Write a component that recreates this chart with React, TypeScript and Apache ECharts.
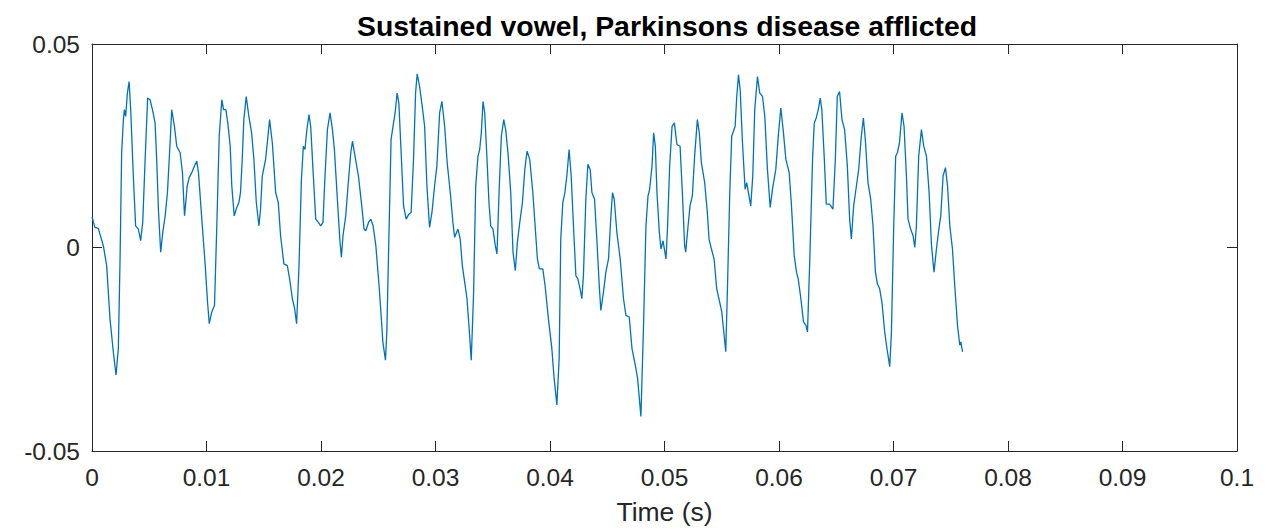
import React, { useEffect, useRef } from "react";
import * as echarts from "echarts";

const titleText = "Sustained vowel, Parkinsons disease afflicted";
const xAxisName = "Time (s)";

const timeS = [
  0, 0.00026, 0.00055, 0.00099, 0.00128, 0.00157, 0.00186, 0.0021, 0.0023, 0.00245,
  0.00259, 0.00274, 0.00283, 0.00294, 0.00309, 0.00324, 0.00338, 0.00361, 0.00381, 0.00405,
  0.00425, 0.00443, 0.00464, 0.00486, 0.00507, 0.00528, 0.00551, 0.00565, 0.0058, 0.006,
  0.00618, 0.00639, 0.00659, 0.00682, 0.00696, 0.0072, 0.0074, 0.0077, 0.0079, 0.00808,
  0.00819, 0.00831, 0.00849, 0.00871, 0.00895, 0.00915, 0.0093, 0.00959, 0.00989, 0.01009,
  0.01024, 0.01046, 0.0107, 0.0109, 0.01111, 0.01134, 0.01149, 0.01169, 0.01186, 0.01207,
  0.01221, 0.01242, 0.01265, 0.01283, 0.01297, 0.01312, 0.01326, 0.01347, 0.0137, 0.01394,
  0.01414, 0.01435, 0.01458, 0.01472, 0.01487, 0.01516, 0.01531, 0.01551, 0.01575, 0.01604,
  0.01627, 0.01647, 0.01676, 0.01706, 0.01726, 0.0175, 0.0177, 0.01787, 0.01808, 0.01829,
  0.01846, 0.0186, 0.01875, 0.01895, 0.0191, 0.0193, 0.01954, 0.01977, 0.01997, 0.02017,
  0.02035, 0.02056, 0.02079, 0.021, 0.02117, 0.02143, 0.02164, 0.02178, 0.02192, 0.02216,
  0.02236, 0.0226, 0.02275, 0.02297, 0.02327, 0.02356, 0.02376, 0.02391, 0.02415, 0.02435,
  0.02455, 0.02479, 0.02507, 0.02531, 0.0254, 0.02563, 0.02575, 0.02592, 0.02612, 0.02627,
  0.02647, 0.02665, 0.0268, 0.027, 0.02721, 0.02744, 0.02767, 0.02787, 0.02808, 0.02826,
  0.0284, 0.02861, 0.02884, 0.02905, 0.02925, 0.02948, 0.02969, 0.02992, 0.03012, 0.03036,
  0.03056, 0.0308, 0.03102, 0.03129, 0.03152, 0.03167, 0.03196, 0.03216, 0.03234, 0.03255,
  0.03275, 0.03292, 0.03312, 0.03333, 0.03351, 0.03371, 0.03386, 0.034, 0.03415, 0.0343,
  0.0345, 0.03467, 0.03482, 0.03502, 0.03522, 0.03537, 0.03555, 0.03575, 0.03596, 0.03613,
  0.03633, 0.03657, 0.03677, 0.03697, 0.03715, 0.03736, 0.03759, 0.0378, 0.038, 0.03823,
  0.0385, 0.0387, 0.0389, 0.03907, 0.03937, 0.03957, 0.03986, 0.04016, 0.04036, 0.0406,
  0.0408, 0.04094, 0.04112, 0.0413, 0.04147, 0.04167, 0.04185, 0.04205, 0.04226, 0.04243,
  0.04263, 0.04278, 0.04292, 0.04313, 0.04331, 0.04351, 0.04366, 0.04389, 0.04409, 0.0443,
  0.04444, 0.04467, 0.04488, 0.04511, 0.04532, 0.04546, 0.04561, 0.04584, 0.04613, 0.04642,
  0.04663, 0.04692, 0.04716, 0.04745, 0.04765, 0.04794, 0.04817, 0.04838, 0.04856, 0.0487,
  0.04891, 0.04905, 0.0492, 0.04934, 0.04955, 0.04969, 0.04987, 0.05013, 0.05027, 0.05045,
  0.05066, 0.05086, 0.05109, 0.05136, 0.05156, 0.05176, 0.05185, 0.05206, 0.05223, 0.05243,
  0.05263, 0.05287, 0.05304, 0.05322, 0.05351, 0.05374, 0.05389, 0.0541, 0.05433, 0.05456,
  0.05482, 0.055, 0.05521, 0.05535, 0.05549, 0.0557, 0.05587, 0.05602, 0.05617, 0.05631,
  0.05646, 0.05661, 0.05681, 0.05704, 0.05718, 0.05733, 0.05753, 0.05771, 0.05788, 0.05812,
  0.05832, 0.05856, 0.05876, 0.05899, 0.05923, 0.05943, 0.05972, 0.05996, 0.06016, 0.06039,
  0.0606, 0.06089, 0.06109, 0.06133, 0.06153, 0.06168, 0.06191, 0.06214, 0.06235, 0.06249,
  0.06269, 0.06293, 0.06308, 0.06325, 0.06343, 0.0636, 0.06374, 0.06396, 0.06413, 0.06442,
  0.06471, 0.06492, 0.06509, 0.06529, 0.0655, 0.06573, 0.06597, 0.06617, 0.06632, 0.06652,
  0.06676, 0.06696, 0.06719, 0.06737, 0.06754, 0.06777, 0.06801, 0.06821, 0.06842, 0.06859,
  0.06879, 0.06899, 0.06923, 0.06943, 0.06967, 0.06982, 0.07002, 0.07019, 0.07034, 0.07052,
  0.07074, 0.07092, 0.07113, 0.07127, 0.0715, 0.07171, 0.07186, 0.072, 0.0722, 0.07244,
  0.07264, 0.07288, 0.07311, 0.07332, 0.07354, 0.07375, 0.07396, 0.07413, 0.07433, 0.07454,
  0.07472, 0.07492, 0.07515, 0.07535, 0.07559, 0.07579, 0.07588, 0.07603,
];

const amplitude = [
  0.0075, 0.00494, 0.00469, 0.00044, -0.00445, -0.01748, -0.02562, -0.03134, -0.02482, -0.00281,
  0.02328, 0.03142, 0.03386, 0.03222, 0.03795, 0.04078, 0.03386, 0.01756, 0.00533, 0.00452,
  0.00166, 0.00616, 0.02164, 0.03672, 0.03631, 0.03386, 0.03061, 0.02164, 0.00941, -0.00117,
  0.00372, 0.00778, 0.0135, 0.02572, 0.03386, 0.02978, 0.02489, 0.02328, 0.01839, 0.00778,
  0.01105, 0.01511, 0.01716, 0.01839, 0.02, 0.02122, 0.01839, 0.00697, -0.00445, -0.0134,
  -0.0187, -0.01584, -0.01423, 0.00533, 0.02733, 0.03631, 0.03386, 0.03386, 0.03061, 0.02489,
  0.01511, 0.00778, 0.0099, 0.01105, 0.0135, 0.02164, 0.03142, 0.03711, 0.03222, 0.02817,
  0.02164, 0.01105, 0.00533, 0.00941, 0.01756, 0.02164, 0.02572, 0.03142, 0.02572, 0.0135,
  0.01105, 0.00289, -0.00403, -0.00445, -0.0077, -0.01259, -0.01504, -0.0187, -0.00445, 0.01675,
  0.02489, 0.02408, 0.02856, 0.03264, 0.02978, 0.01919, 0.00697, 0.00616, 0.00533, 0.00616,
  0.01756, 0.02897, 0.03306, 0.02897, 0.02408, 0.01186, 0.00208, -0.0024, 0.00289, 0.00778,
  0.01511, 0.02328, 0.02611, 0.02244, 0.01756, 0.01022, 0.00452, 0.00411, 0.00616, 0.00697,
  0.00533, 0.00044, -0.00934, -0.01912, -0.02318, -0.02768, -0.02073, 0.00127, 0.02653, 0.02939,
  0.03306, 0.03795, 0.0355, 0.02328, 0.01022, 0.00697, 0.00819, 0.00861, 0.02164, 0.03795,
  0.04267, 0.03956, 0.03467, 0.02978, 0.01511, 0.00494, 0.00861, 0.01511, 0.02, 0.03306,
  0.03589, 0.02978, 0.02083, 0.0135, 0.00616, 0.00249, 0.00452, 0.00208, -0.00445, -0.00851,
  -0.01259, -0.01912, -0.02768, -0.01095, 0.01511, 0.02244, 0.02408, 0.02817, 0.03589, 0.03306,
  0.02164, 0.01105, 0.00533, 0.00452, 0.00044, -0.00159, 0.0135, 0.02733, 0.03142, 0.02897,
  0.02328, 0.0135, -0.00117, -0.00567, 0.00127, 0.00616, 0.01105, 0.01919, 0.02367, 0.02164,
  0.0135, 0.00533, -0.00281, -0.00526, -0.00526, -0.00934, -0.01748, -0.0248, -0.03215, -0.03868,
  -0.02726, 0.00208, 0.01105, 0.0135, 0.01756, 0.02408, 0.01756, 0.00533, -0.0069, -0.0077,
  -0.01015, -0.01259, -0.0069, 0.01186, 0.02042, 0.01919, 0.0135, 0.01186, 0.00208, -0.00934,
  -0.01545, -0.01095, -0.00606, -0.00281, 0.00778, 0.0135, 0.01186, 0.00372, -0.00281, -0.01259,
  -0.01667, -0.01707, -0.02482, -0.0289, -0.03215, -0.04152, -0.01912, 0.00533, 0.01267, 0.0143,
  0.02, 0.02817, 0.02489, 0.0135, 0.00372, -0.00037, 0.00166, -0.00281, 0.00533, 0.02,
  0.02978, 0.03061, 0.02531, 0.02489, 0.0135, 0.00044, -0.00117, 0.00533, 0.01022, 0.01267,
  0.02244, 0.03142, 0.02817, 0.02083, 0.01594, 0.00861, 0.00208, -0.00037, -0.00281, -0.01015,
  -0.0134, -0.01584, -0.02156, -0.02562, -0.01095, 0.0135, 0.02733, 0.02856, 0.02978, 0.03711,
  0.04242, 0.03875, 0.02572, 0.0143, 0.01594, 0.0135, 0.01022, 0.01756, 0.03386, 0.042,
  0.03795, 0.03711, 0.03222, 0.01919, 0.00983, 0.0143, 0.01919, 0.02817, 0.03428, 0.02817,
  0.02164, 0.01839, 0.01022, -0.002, -0.00606, -0.0077, -0.01259, -0.01829, -0.01912, -0.02073,
  -0.00281, 0.02164, 0.03061, 0.03183, 0.03386, 0.03672, 0.03386, 0.02164, 0.01064, 0.01064,
  0.00941, 0.02164, 0.03711, 0.03834, 0.03142, 0.02897, 0.02, 0.00697, 0.00208, 0.01022,
  0.01511, 0.01919, 0.02733, 0.03183, 0.02653, 0.01594, 0.01186, 0.00533, -0.00606, -0.00892,
  -0.01015, -0.0134, -0.02073, -0.02482, -0.02929, -0.02073, 0.00533, 0.02244, 0.02328, 0.02572,
  0.03306, 0.02978, 0.01756, 0.00697, 0.00452, 0.00289, 0, 0.00533, 0.02244, 0.02897,
  0.02489, 0.02244, 0.0135, 0.00044, -0.00606, -0.00037, 0.00452, 0.00778, 0.01756, 0.01961,
  0.01511, 0.00533, -0.00037, -0.00934, -0.01912, -0.02401, -0.02318, -0.02562,
];

const xTickStep = 0.01;
const xMin = 0;
const xMax = 0.1;
const yTickStep = 0.05;
const yMin = -0.05;
const yMax = 0.05;

const FONT = '"Liberation Sans", Helvetica, Arial, sans-serif';
const AX = "#262626";

function fmt(v: number): string {
  return String(parseFloat(v.toFixed(4)));
}

export default function App() {
  const ref = useRef<HTMLDivElement>(null);
  useEffect(() => {
    if (!ref.current) return;
    const chart = echarts.init(ref.current, undefined, { renderer: "svg" });
    const data = timeS.map((t, i) => [t, amplitude[i]]);
    const tick = { show: true, inside: true, length: 10, lineStyle: { color: AX, width: 1 } };
    const line = { show: true, onZero: false, lineStyle: { color: AX, width: 1 } };
    chart.setOption({
      animation: false,
      backgroundColor: "#ffffff",
      title: {
        text: titleText,
        left: 662,
        top: 7,
        textAlign: "center",
        textStyle: { fontFamily: FONT, fontSize: 28.4, fontWeight: "bold", color: "#000000" },
      },
      grid: { left: 92, right: 39, top: 44, bottom: 77, containLabel: false },
      xAxis: [
        {
          type: "value",
          min: xMin,
          max: xMax,
          interval: xTickStep,
          position: "bottom",
          axisLine: line,
          axisTick: tick,
          splitLine: { show: false },
          axisLabel: { fontFamily: FONT, fontSize: 24.5, color: AX, margin: 14, formatter: fmt },
          name: xAxisName,
          nameLocation: "middle",
          nameGap: 47,
          nameTextStyle: { fontFamily: FONT, fontSize: 26.5, color: AX },
        },
        {
          type: "value",
          min: xMin,
          max: xMax,
          interval: xTickStep,
          position: "top",
          axisLine: line,
          axisTick: tick,
          splitLine: { show: false },
          axisLabel: { show: false },
        },
      ],
      yAxis: [
        {
          type: "value",
          min: yMin,
          max: yMax,
          interval: yTickStep,
          position: "left",
          axisLine: line,
          axisTick: tick,
          splitLine: { show: false },
          axisLabel: { fontFamily: FONT, fontSize: 24.5, color: AX, margin: 12, formatter: fmt },
        },
        {
          type: "value",
          min: yMin,
          max: yMax,
          interval: yTickStep,
          position: "right",
          axisLine: line,
          axisTick: tick,
          splitLine: { show: false },
          axisLabel: { show: false },
        },
      ],
      series: [
        {
          type: "line",
          data,
          xAxisIndex: 0,
          yAxisIndex: 0,
          showSymbol: false,
          symbol: "none",
          lineStyle: { color: "#0072BD", width: 1.3 },
          itemStyle: { color: "#0072BD" },
        },
      ],
    });
    return () => chart.dispose();
  }, []);
  return (
    <div
      ref={ref}
      style={{ position: "absolute", left: 0, top: 0, width: 1276, height: 530, background: "#fff" }}
    />
  );
}
